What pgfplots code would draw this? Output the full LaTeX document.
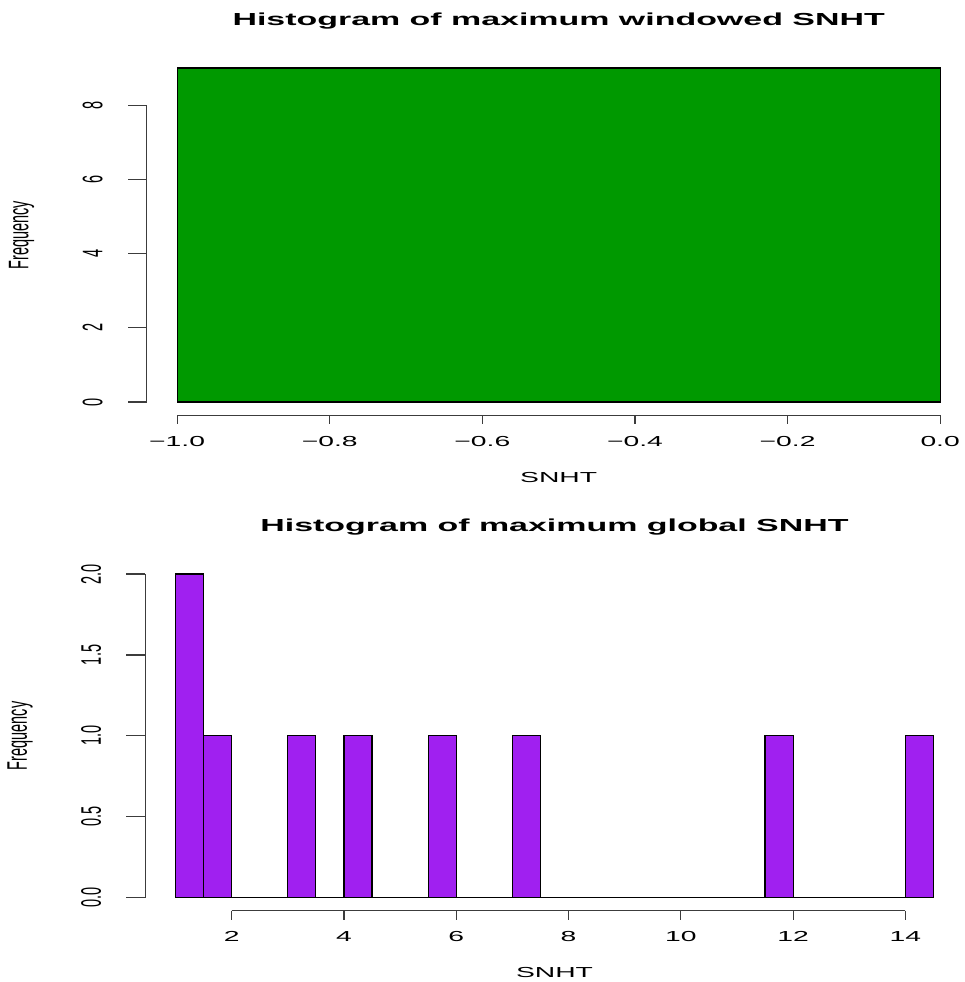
\documentclass[border=0pt]{standalone}
\usepackage{fontspec}
\setmainfont{Liberation Sans}
\usepackage{pgfplots}
\pgfplotsset{compat=1.18}
\definecolor{rgreen}{RGB}{0,153,0}
\definecolor{rpurple}{RGB}{160,32,240}
\definecolor{axgray}{RGB}{60,60,60}
\newcommand{\tf}{\fontsize{7.25}{8.5}\selectfont}
\newcommand{\ttl}{\fontsize{8.7}{10}\selectfont\bfseries}
\def\sx{1.95}
\pgfplotsset{
  rstyle/.style={
    scale only axis,
    axis line style={draw=none},
    major tick length=0pt,
    tick style={draw=none},
    xtick pos=left, ytick pos=left,
    clip=false,
    xticklabel style={font=\tf, yshift=-13pt, anchor=center, xscale=\sx},
    yticklabel style={font=\tf, xshift=-27pt, rotate=90, yscale=\sx, anchor=center},
    every axis title/.style={at={(axis description cs:0.5,1)}, yshift=14.8pt, anchor=base, font=\ttl, xscale=\sx},
    every axis x label/.style={at={(axis description cs:0.5,0)}, yshift=-31pt, anchor=center, font=\tf, xscale=\sx},
    every axis y label/.style={at={(axis description cs:0,0.5)}, xshift=-62.5pt, rotate=90, yscale=\sx, anchor=center, font=\tf},
  }
}
\begin{document}
\begin{tikzpicture}
\path[use as bounding box] (0,0) rectangle (482.5pt,491pt);
% top histogram
\begin{axis}[rstyle,
  at={(73.3pt,283.3pt)}, anchor=south west,
  width=412.05pt, height=180.35pt,
  xmin=-1.04, xmax=0.04, ymin=-0.36, ymax=9.36,
  xtick={-1,-0.8,-0.6,-0.4,-0.2,0},
  xticklabels={−1.0,−0.8,−0.6,−0.4,−0.2,0.0},
  ytick={0,2,4,6,8}, yticklabels={0,2,4,6,8},
  title={Histogram of maximum windowed SNHT},
  xlabel={SNHT}, ylabel={Frequency}]
\addplot[ybar, bar width=1, bar shift=0pt, fill=rgreen, draw=black, line width=0.6pt] coordinates {(-0.5,9)};
\draw[axgray, line width=0.6pt] (axis cs:-1,-0.36) -- (axis cs:0,-0.36);
\pgfplotsinvokeforeach{-1,-0.8,-0.6,-0.4,-0.2,0}{\draw[axgray, line width=0.6pt] (axis cs:#1,-0.36) -- ([yshift=-4.5pt]axis cs:#1,-0.36);}
\draw[axgray, line width=0.6pt] (axis cs:-1.04,0) -- (axis cs:-1.04,8);
\pgfplotsinvokeforeach{0,2,4,6,8}{\draw[axgray, line width=0.6pt] (axis cs:-1.04,#1) -- ([xshift=-9.5pt]axis cs:-1.04,#1);}
\end{axis}
% bottom histogram
\begin{axis}[rstyle,
  at={(72.6pt,35.7pt)}, anchor=south west,
  width=409.3pt, height=174.75pt,
  xmin=0.46, xmax=15.04, ymin=-0.08, ymax=2.08,
  xtick={2,4,6,8,10,12,14},
  xticklabels={2,4,6,8,10,12,14},
  ytick={0,0.5,1,1.5,2}, yticklabels={0.0,0.5,1.0,1.5,2.0},
  title={Histogram of maximum global SNHT},
  xlabel={SNHT}, ylabel={Frequency}]
\addplot[ybar, bar width=0.5, bar shift=0pt, fill=rpurple, draw=black, line width=0.6pt] coordinates {
(1.25,2) (1.75,1) (2.25,0) (2.75,0) (3.25,1) (3.75,0) (4.25,1) (4.75,0)
(5.25,0) (5.75,1) (6.25,0) (6.75,0) (7.25,1) (7.75,0) (8.25,0) (8.75,0)
(9.25,0) (9.75,0) (10.25,0) (10.75,0) (11.25,0) (11.75,1) (12.25,0) (12.75,0)
(13.25,0) (13.75,0) (14.25,1)};
\draw[axgray, line width=0.6pt] (axis cs:2,-0.08) -- (axis cs:14,-0.08);
\pgfplotsinvokeforeach{2,4,6,8,10,12,14}{\draw[axgray, line width=0.6pt] (axis cs:#1,-0.08) -- ([yshift=-4.5pt]axis cs:#1,-0.08);}
\draw[axgray, line width=0.6pt] (axis cs:0.46,0) -- (axis cs:0.46,2);
\pgfplotsinvokeforeach{0,0.5,1,1.5,2}{\draw[axgray, line width=0.6pt] (axis cs:0.46,#1) -- ([xshift=-9.5pt]axis cs:0.46,#1);}
\end{axis}
\end{tikzpicture}
\end{document}
